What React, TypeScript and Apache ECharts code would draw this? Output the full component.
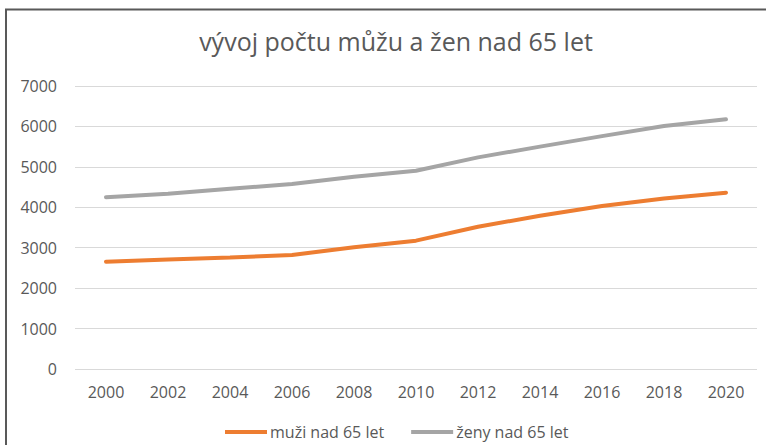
import React, { useEffect, useRef } from "react";
import * as echarts from "echarts";

const years = ["2000", "2002", "2004", "2006", "2008", "2010", "2012", "2014", "2016", "2018", "2020"];
const muzi = [2655, 2710, 2755, 2820, 3010, 3175, 3520, 3790, 4030, 4220, 4360];
const zeny = [4250, 4335, 4460, 4575, 4755, 4905, 5235, 5500, 5760, 6010, 6175];
const titleText = "vývoj počtu můžu a žen nad 65 let";
const seriesNames = ["muži nad 65 let", "ženy nad 65 let"];

const FONT = "'Open Sans', sans-serif";
const TXT = "#595959";

export default function App() {
  const ref = useRef<HTMLDivElement>(null);
  useEffect(() => {
    document.body.style.margin = "0";
    const chart = echarts.init(ref.current!, null, { renderer: "svg" });
    chart.setOption({
      animation: false,
      backgroundColor: "#ffffff",
      textStyle: { fontFamily: FONT },
      title: {
        text: titleText,
        left: 391,
        textAlign: "center",
        top: 23,
        textStyle: { fontFamily: FONT, fontSize: 25, fontWeight: "normal", color: TXT },
      },
      graphic: [
        {
          type: "rect",
          shape: { x: 6, y: 9.5, width: 900, height: 600 },
          style: { fill: "none", stroke: "#595959", lineWidth: 2 },
          z: -1,
        },
      ],
      legend: {
        bottom: 0,
        left: 220,
        itemGap: 27,
        itemWidth: 42,
        itemHeight: 4,
        icon: "rect",
        textStyle: { fontFamily: FONT, fontSize: 16, color: TXT, padding: [0, 0, 0, -2] },
        data: seriesNames,
      },
      grid: { left: 75, right: 9, top: 86, bottom: 76 },
      xAxis: {
        type: "category",
        data: years,
        boundaryGap: true,
        axisLine: { show: false },
        axisTick: { show: false },
        axisLabel: { fontFamily: FONT, fontSize: 16, color: TXT, margin: 15 },
      },
      yAxis: {
        type: "value",
        min: 0,
        max: 7000,
        interval: 1000,
        axisLine: { show: false },
        axisTick: { show: false },
        axisLabel: {
          fontFamily: FONT,
          fontSize: 16,
          color: TXT,
          margin: 18,
          formatter: (v: number) => String(v),
        },
        splitLine: { lineStyle: { color: "#d9d9d9", width: 1 } },
      },
      series: [
        {
          name: seriesNames[0],
          type: "line",
          data: muzi,
          symbol: "none",
          lineStyle: { color: "#ED7D31", width: 4, cap: "round" },
          itemStyle: { color: "#ED7D31" },
        },
        {
          name: seriesNames[1],
          type: "line",
          data: zeny,
          symbol: "none",
          lineStyle: { color: "#A5A5A5", width: 4, cap: "round" },
          itemStyle: { color: "#A5A5A5" },
        },
      ],
    });
    return () => chart.dispose();
  }, []);
  return <div ref={ref} style={{ position: "absolute", left: 0, top: 0, width: 766, height: 445 }} />;
}
